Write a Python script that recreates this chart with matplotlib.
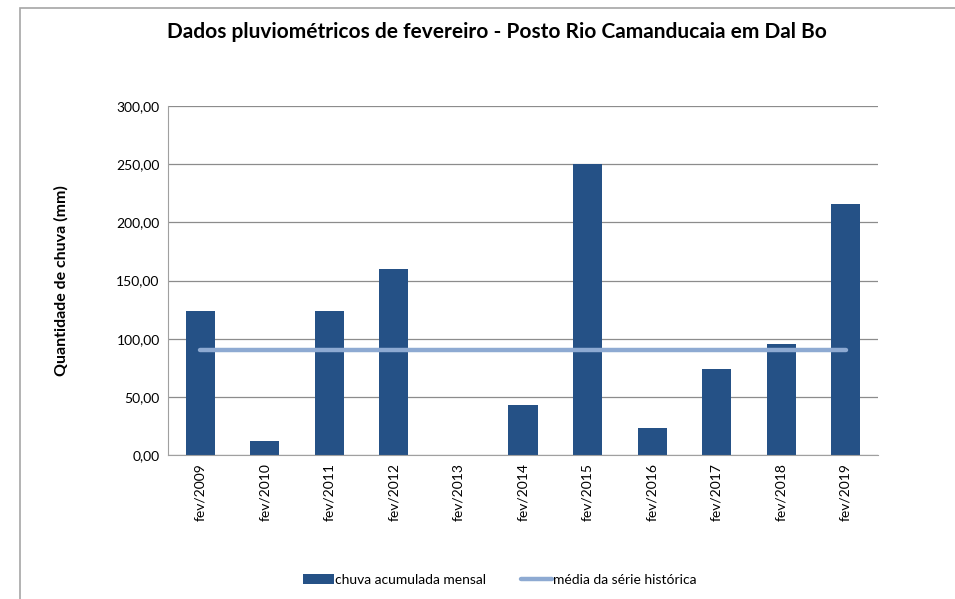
import matplotlib
matplotlib.use("Agg")
import matplotlib.pyplot as plt
from matplotlib.patches import Rectangle
import numpy as np

plt.rcParams['font.family'] = ['Lato', 'DejaVu Sans']

# data
categories = ['fev/2009', 'fev/2010', 'fev/2011', 'fev/2012', 'fev/2013', 'fev/2014',
              'fev/2015', 'fev/2016', 'fev/2017', 'fev/2018', 'fev/2019']
chuva = [124, 12, 124, 160, 0, 43, 250, 23, 74, 95, 216]
media = [90] * len(categories)
yticks = [0, 50, 100, 150, 200, 250, 300]

fig = plt.figure(figsize=(9.55, 5.99), dpi=100)

# outer chart frame (cropped at right and bottom)
fig.patches.append(Rectangle((20 / 955, -0.1), 1.2, 1 - 8 / 599 + 0.1,
                             transform=fig.transFigure, fill=False,
                             edgecolor='#a6a6a6', lw=1.2))

ax = fig.add_axes([168 / 955, 1 - 455 / 599, 710 / 955, 349 / 599])
x = np.arange(len(categories))
bars = ax.bar(x, chuva, width=0.45, color='#255186', zorder=2,
              label='chuva acumulada mensal')
line, = ax.plot(x, media, color='#8eaad2', lw=3.2, solid_capstyle='round', zorder=3,
                label='média da série histórica')

ax.set_xlim(-0.5, len(categories) - 0.5)
ax.set_ylim(0, 300)
ax.set_yticks(yticks)
ax.set_yticklabels([f'{v:.2f}'.replace('.', ',') for v in yticks], fontsize=10)
ax.set_xticks(x)
ax.set_xticklabels(categories, rotation=90, fontsize=10)
ax.tick_params(axis='both', length=0, pad=6)
ax.grid(axis='y', color='#8c8c8c', lw=0.9, zorder=0)
for s in ['top', 'right']:
    ax.spines[s].set_visible(False)
for s in ['left', 'bottom']:
    ax.spines[s].set_color('#a0a0a0')

ax.set_ylabel('Quantidade de chuva (mm)', fontsize=11.5, fontweight='bold',
              labelpad=34)

fig.text(497 / 955, 1 - 32 / 599,
         'Dados pluviométricos de fevereiro - Posto Rio Camanducaia em Dal Bo',
         ha='center', va='center', fontsize=15, fontweight='bold')

fig.legend(handles=[bars, line], loc='center',
           bbox_to_anchor=(500 / 955, 1 - 580 / 599), ncol=2,
           frameon=False, fontsize=10, handlelength=2.2, handletextpad=0.1,
           columnspacing=2.5)

fig.savefig('out.png', dpi=100)
